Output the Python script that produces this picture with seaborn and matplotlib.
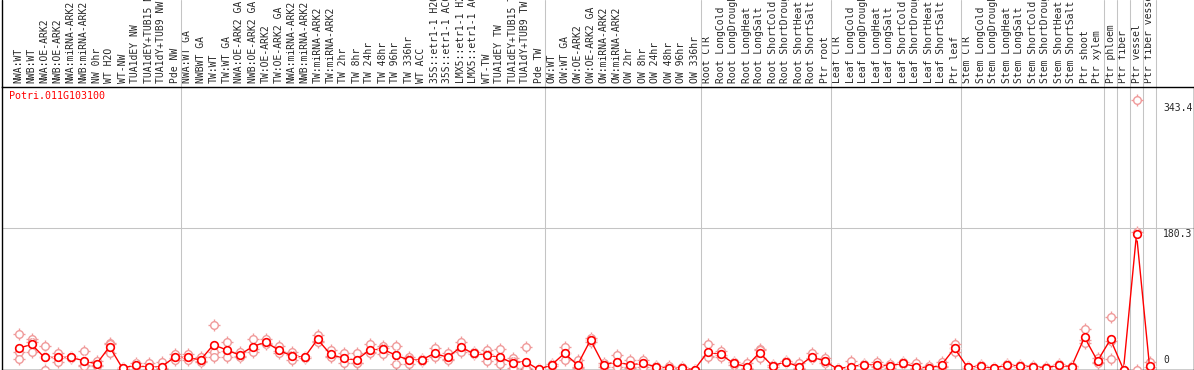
import numpy as np
import pandas as pd
import matplotlib
matplotlib.use("Agg")
import matplotlib.pyplot as plt
import seaborn as sns

gene_id = "Potri.011G103100"

samples = [
    "NWA:WT", "NWB:WT", "NWA:OE-ARK2", "NWB:OE-ARK2", "NWA:miRNA-ARK2", "NWB:miRNA-ARK2",
    "NW 0hr", "WT H2O", "WT-NW", "TUA1dEY NW", "TUA1dEY+TUB15 NW", "TUA1dY+TUB9 NW", "Pde NW",
    "NWA:WT GA", "NWBWT GA", "TW:WT", "TW:WT GA", "NWA:OE-ARK2 GA", "NWB:OE-ARK2 GA",
    "TW:OE-ARK2", "TW:OE-ARK2 GA", "NWA:miRNA-ARK2", "NWB:miRNA-ARK2", "TW:miRNA-ARK2",
    "TW:miRNA-ARK2", "TW 2hr", "TW 8hr", "TW 24hr", "TW 48hr", "TW 96hr", "TW 336hr", "WT ACC",
    "35S::etr1-1 H2O", "35S::etr1-1 ACC", "LMX5::etr1-1 H2O", "LMX5::etr1-1 ACC", "WT-TW",
    "TUA1dEY TW", "TUA1dEY+TUB15 TW", "TUA1dY+TUB9 TW", "Pde TW",
    "OW:WT", "OW:WT GA", "OW:OE-ARK2", "OW:OE-ARK2 GA", "OW:miRNA-ARK2", "OW:miRNA-ARK2",
    "OW 2hr", "OW 8hr", "OW 24hr", "OW 48hr", "OW 96hr", "OW 336hr",
    "Root CTR", "Root LongCold", "Root LongDrought", "Root LongHeat", "Root LongSalt",
    "Root ShortCold", "Root ShortDrought", "Root ShortHeat", "Root ShortSalt", "Ptr root",
    "Leaf CTR", "Leaf LongCold", "Leaf LongDrought", "Leaf LongHeat", "Leaf LongSalt",
    "Leaf ShortCold", "Leaf ShortDrought", "Leaf ShortHeat", "Leaf ShortSalt", "Ptr leaf",
    "Stem CTR", "Stem LongCold", "Stem LongDrought", "Stem LongHeat", "Stem LongSalt",
    "Stem ShortCold", "Stem ShortDrought", "Stem ShortHeat", "Stem ShortSalt", "Ptr shoot",
    "Ptr xylem", "Ptr phloem", "Ptr fiber", "Ptr vessel", "Ptr fiber vessel",
]

group_sizes = [13, 28, 12, 10, 10, 11, 1, 1, 1, 1]

rep1 = [45, 39, 30, 21.5, 16.5, 24, 11, 34, 2, 8, 7.9, 9, 20,
        19.8, 15.5, 56.7, 35.5, 21.9, 38.4, 38.4, 30, 21.9, 16, 44, 24.9, 20.6, 20.6, 32.1,
        30, 30, 16.4, 13, 27, 20.6, 35.5, 22, 24.9, 25.8, 14.2, 28.3, 0.5,
        7, 29.1, 12.1, 39.7, 7.9, 18.5, 12.1, 12.1, 4.5, 4.5, 3.7, 0,
        32.5, 24, 10, 7.9, 26, 5.5, 11, 7.9, 20.6, 14.2,
        1.2, 11.3, 6.5, 10, 7, 9, 7.9, 4.5, 10, 32.1,
        3.5, 5.5, 2.2, 7, 5.5, 4.5, 3.2, 6.5, 4.5, 51.6, 14.6,
        66.5, 0, 343.4, 10]
rep2 = [22, 35, 16, 15, 15.5, 6, 6, 32.5, 1.5, 5, 0, 1.5, 15,
        14.6, 10.8, 22.8, 23.7, 17.2, 26.1, 34.2, 23.2, 18.5, 15.5, 35.7, 16.9, 14.1, 7.9, 22,
        27.6, 18.5, 12.9, 12, 18.4, 13.8, 26.6, 20.6, 19.8, 13.7, 10.4, 1.5, 0,
        5.8, 20.6, 3, 37.6, 5.8, 7.8, 3, 7.9, 3.7, 0, 0.8, 0,
        16.8, 18.5, 7.9, 2.5, 24.3, 4.5, 10, 2.5, 14.4, 10.3,
        0.6, 0, 5.8, 4.5, 4.5, 7.9, 2.5, 0, 4.5, 27,
        2.8, 4.5, 1.5, 5.8, 4.5, 3.7, 2.4, 5.3, 3.7, 37.2, 10,
        35.7, 0, 174.7, 3.5]
rep3 = [14, 22, 0, 10, 14.5, 4, 4, 20.6, 1, 4.4, 0, 0.5, 11.5,
        12.1, 10, 15.5, 15.5, 16.4, 22.8, 32.4, 21.5, 12.1, 15, 35.5, 16.4, 7.9, 7.8, 20.6,
        19.8, 7, 7, 11.3, 16.4, 12.1, 22.8, 19.2, 10.8, 7, 1.5, 0.2, 0,
        4.6, 12.1, 2.3, 35.5, 3.7, 3.7, 2.3, 3.7, 2.9, 0, 0, 0,
        16.4, 15.7, 5.8, 0.7, 14.2, 3.5, 9, 0.7, 14.2, 7.9,
        0.3, 0, 5.1, 2.9, 2, 6.8, 0.7, 0, 2.9, 21.9,
        2.1, 3.5, 0.8, 4.6, 3.5, 2.9, 1.6, 4.1, 2.9, 34.2, 7.9,
        13, 0, 0, 0]

# ---------------------------------------------------------------------------
n = len(samples)
pos = np.arange(n)
df = pd.DataFrame({
    "pos": np.tile(pos, 3),
    "value": np.concatenate([rep1, rep2, rep3]),
})

max_val = df["value"].max()
y_top = max_val * 1.05
y_mid = y_top / 2.0

W, H = 1194, 370
sns.set_style("white")
plt.rcParams["font.family"] = ["DejaVu Sans Mono", "DejaVu Sans"]
fig = plt.figure(figsize=(W / 100, H / 100), dpi=100)
fig.patch.set_facecolor("white")

ax_left, ax_right = 1.5, 1193.5
ax_top, ax_bot = 86.5, 369.5
ax = fig.add_axes([ax_left / W, (H - ax_bot) / H, (ax_right - ax_left) / W, (ax_bot - ax_top) / H])

px0, step = 18.5, 13.0
xl = ((ax_left - px0) / step, (ax_right - px0) / step)
ax.set_xlim(*xl)
ax.set_ylim(0, y_top)

pink = "#f09a9a"
red = "#ff0000"
grey = "#c4c4c4"
lw = 0.75

# group separators spanning plot and label band
extra = ax_top / (ax_bot - ax_top)
bounds = np.cumsum(group_sizes) - 0.5
for b in bounds:
    ax.axvline(b, ymin=0, ymax=1 + extra, color=grey, lw=lw, clip_on=False, zorder=1)
ax.axvline(xl[0], ymin=1, ymax=1 + extra, color="black", lw=1.0, clip_on=False, zorder=1)
ax.axhline(y_mid, color=grey, lw=lw, zorder=1)

# replicates
sns.scatterplot(data=df, x="pos", y="value", marker="+", s=64, color=pink,
                linewidth=1.0, ax=ax, zorder=2, legend=False)
sns.scatterplot(data=df, x="pos", y="value", marker="o", s=30, facecolor="white",
                edgecolor=pink, linewidth=1.0, ax=ax, zorder=3, legend=False)

# mean line
sns.lineplot(data=df, x="pos", y="value", estimator="mean", errorbar=None,
             color=red, lw=1.0, ax=ax, zorder=4, legend=False)
sns.lineplot(data=df, x="pos", y="value", estimator="mean", errorbar=None,
             color=red, ls="", marker="+", markersize=8, markeredgewidth=1.0,
             ax=ax, zorder=5, legend=False)
sns.lineplot(data=df, x="pos", y="value", estimator="mean", errorbar=None,
             color=red, ls="", marker="o", markersize=5.5, markerfacecolor="white",
             markeredgecolor=red, markeredgewidth=1.2, ax=ax, zorder=6, legend=False)

# sample labels on top
ax.xaxis.tick_top()
ax.set_xticks(pos)
ax.set_xticklabels(samples, rotation=90, fontsize=7, va="bottom", ha="center")
ax.tick_params(axis="x", length=0, pad=2.5)
ax.set_yticks([])
ax.set_xlabel("")
ax.set_ylabel("")

for s in ax.spines.values():
    s.set_visible(True)
    s.set_color("black")
    s.set_linewidth(1.0)

# right-side value labels
xf = (1163 - ax_left) / (ax_right - ax_left)
ax.annotate(f"{max_val:.1f}", xy=(xf, max_val), xycoords=("axes fraction", "data"),
            xytext=(0, -2), textcoords="offset points", va="top", ha="left", fontsize=7)
ax.annotate(f"{y_mid:.1f}", xy=(xf, y_mid), xycoords=("axes fraction", "data"),
            xytext=(0, -1), textcoords="offset points", va="top", ha="left", fontsize=7)
ax.annotate("0", xy=(xf, 0), xycoords=("axes fraction", "data"),
            xytext=(0, 3), textcoords="offset points", va="bottom", ha="left", fontsize=7)

fig.text(9 / W, (H - 96) / H, gene_id, color=red, fontsize=7.2, va="center", ha="left")

fig.savefig("out.png", dpi=100, facecolor="white")
